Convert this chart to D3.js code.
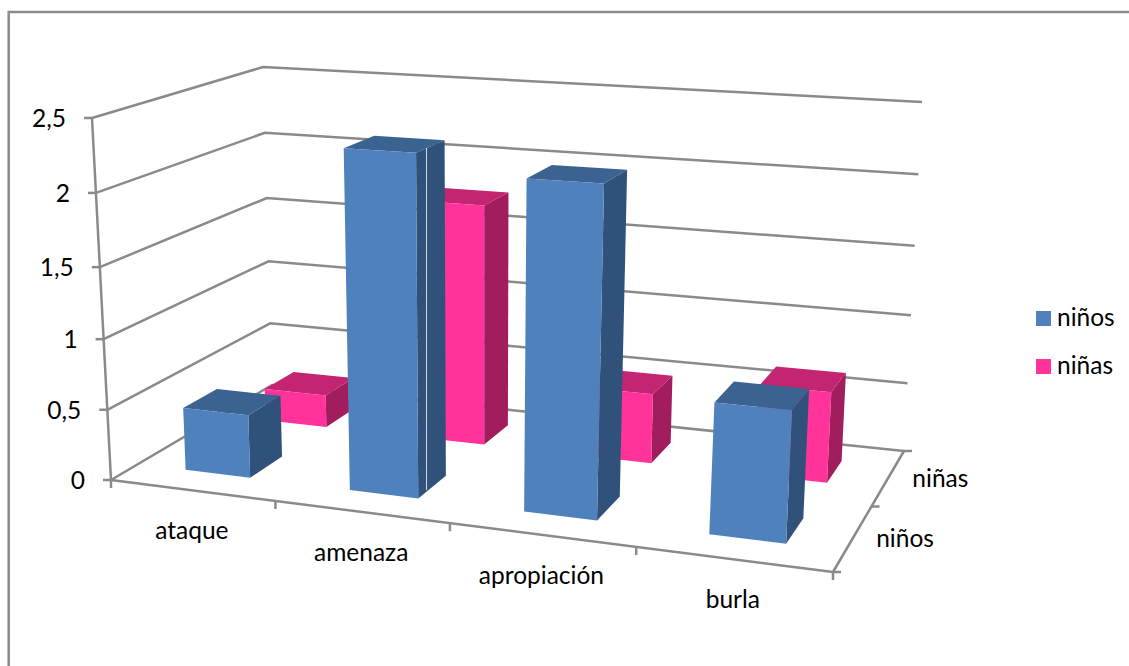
<!DOCTYPE html>
<html>
<head>
<meta charset="utf-8">
<script src="https://cdn.jsdelivr.net/npm/d3@7"></script>
<style>
  html, body { margin: 0; padding: 0; background: #fff; }
  text { font-family: Lato, "Open Sans", sans-serif; font-size: 24.5px; fill: #000; }
</style>
</head>
<body>
<div id="plot"></div>
<script>
const categories = ["ataque", "amenaza", "apropiación", "burla"];
const seriesNames = ["niños", "niñas"];
const ninos = [0.445, 2.33, 2.21, 0.87];
const ninas = [0.24, 1.75, 0.5, 0.64];
const valueTicks = [0, 0.5, 1, 1.5, 2, 2.5];
const tickFractions = [0, 0.194, 0.389, 0.588, 0.793, 1];

const WIDTH = 1129;
const HEIGHT = 666;
const GRAY = "#8a8a8a";
const LINE_W = 2.5;

// corners of the floor and of the top plane: front left, front right, back right, back left
const FLOOR = [[111, 480], [833, 572], [904, 451], [272, 385]];
const ROOF = [[92, 118], [851, 163], [922, 102], [263, 67]];

const COLORS = {
  "niños": { front: "#4F81BD", top: "#3B6391", side: "#30527A" },
  "niñas": { front: "#FF3399", top: "#C42573", side: "#A11D5E" }
};

const SVG = d3.select("#plot")
              .append("svg")
              .attr("width", WIDTH)
              .attr("height", HEIGHT)
              .style("display", "block");

// maps the unit square on a quad
function homography(q) {
  const [[x0, y0], [x1, y1], [x2, y2], [x3, y3]] = q;
  const dx3 = x0 - x1 + x2 - x3, dy3 = y0 - y1 + y2 - y3;
  const dx1 = x1 - x2, dy1 = y1 - y2, dx2 = x3 - x2, dy2 = y3 - y2;
  const det = dx1 * dy2 - dx2 * dy1;
  const g = (dx3 * dy2 - dx2 * dy3) / det;
  const h = (dx1 * dy3 - dx3 * dy1) / det;
  return (u, v) => {
    const w = g * u + h * v + 1;
    return [
      ((x1 - x0 + g * x1) * u + (x3 - x0 + h * x3) * v + x0) / w,
      ((y1 - y0 + g * y1) * u + (y3 - y0 + h * y3) * v + y0) / w
    ];
  };
}

const floorMap = homography(FLOOR);
const roofMap = homography(ROOF);

// small bends so the bar edges lean like the picture
const floorBend = d3.scaleLinear().domain([0, 0.25, 0.5, 0.75, 1]).range([0, 0.253, 0.504, 0.754, 1]);
const roofBend = d3.scaleLinear().domain([0, 0.325, 0.575, 0.825, 1]).range([0, 0.315, 0.565, 0.824, 1]);

function project(u, v, f) {
  const a = floorMap(floorBend(u), v), b = roofMap(roofBend(u), v);
  return [a[0] + (b[0] - a[0]) * f, a[1] + (b[1] - a[1]) * f];
}

const xScale = d3.scaleBand().domain(categories).range([0, 1]).paddingInner(0.6).paddingOuter(0.3);
const zScale = d3.scaleBand().domain(seriesNames).range([0, 1]).paddingInner(0.6).paddingOuter(0.3);
const yScale = d3.scaleLinear().domain(valueTicks).range(tickFractions);

const line = d3.line();

function stroke(points) {
  SVG.append("path")
    .attr("d", line(points))
    .attr("fill", "none")
    .attr("stroke", GRAY)
    .attr("stroke-width", LINE_W);
}

// outer frame, only top and left
stroke([[8.7, 666], [8.7, 12], [1129, 12]]);

// grid on the walls
valueTicks.forEach((t) => {
  const f = yScale(t);
  stroke([project(0, 0, f), project(0, 1, f), project(1, 1, f)]);
  const p = project(0, 0, f);
  stroke([[p[0] - 8, p[1]], p]);
});

// axis lines
stroke([project(0, 0, 0), project(0, 0, 1)]);
stroke([project(0, 0, 0), project(1, 0, 0)]);
stroke([project(1, 0, 0), project(1, 1, 0)]);

// ticks below the category axis
d3.range(categories.length + 1).forEach((i) => {
  const p = project(i / categories.length, 0, 0);
  stroke([p, [p[0], p[1] + 8]]);
});

// ticks of the depth axis
d3.range(seriesNames.length + 1).forEach((i) => {
  const p = project(1, i / seriesNames.length, 0);
  stroke([p, [p[0] + 8, p[1]]]);
});

function drawBar(cat, name, value) {
  const u0 = xScale(cat), u1 = u0 + xScale.bandwidth();
  const v0 = zScale(name), v1 = v0 + zScale.bandwidth();
  const f = yScale(value);
  const c = COLORS[name];
  const face = (pts, fill) => SVG.append("polygon")
    .attr("points", pts.map((p) => p.join(",")).join(" "))
    .attr("fill", fill);
  face([project(u0, v0, f), project(u1, v0, f), project(u1, v1, f), project(u0, v1, f)], c.top);
  face([project(u1, v0, 0), project(u1, v1, 0), project(u1, v1, f), project(u1, v0, f)], c.side);
  face([project(u0, v0, 0), project(u1, v0, 0), project(u1, v0, f), project(u0, v0, f)], c.front);
}

// back row first so the front row covers it
categories.forEach((c, i) => drawBar(c, "niñas", ninas[i]));
categories.forEach((c, i) => drawBar(c, "niños", ninos[i]));

// thin pale seam on the side of the amenaza bar, straight up and down
const seamU = xScale("amenaza") + xScale.bandwidth();
const seamV = zScale("niños") + zScale.bandwidth() * 0.36;
const seamTop = project(seamU, seamV, yScale(ninos[1]));
const seamBottom = project(seamU, seamV, 0);
SVG.append("path")
  .attr("d", line([seamTop, [seamTop[0], seamBottom[1]]]))
  .attr("stroke", "#d9d9d9")
  .attr("stroke-width", 1);

// value labels
valueTicks.forEach((t) => {
  const p = project(0, 0, yScale(t));
  SVG.append("text")
    .attr("x", p[0] - 26)
    .attr("y", p[1] + 9)
    .attr("text-anchor", "end")
    .text(String(t).replace(".", ","));
});

// category labels
categories.forEach((c) => {
  const p = project(xScale(c) + xScale.bandwidth() / 2, 0, 0);
  SVG.append("text")
    .attr("x", p[0])
    .attr("y", p[1] + 49)
    .attr("text-anchor", "middle")
    .text(c);
});

// depth labels
seriesNames.forEach((s) => {
  const p = project(1, zScale(s) + zScale.bandwidth() / 2, 0);
  SVG.append("text")
    .attr("x", p[0] + 52)
    .attr("y", p[1] + 9)
    .attr("text-anchor", "middle")
    .text(s);
});

// legend
seriesNames.forEach((s, i) => {
  const g = SVG.append("g").attr("transform", `translate(1036, ${311 + i * 48})`);
  g.append("rect").attr("width", 15).attr("height", 15).attr("fill", COLORS[s].front);
  g.append("text").attr("x", 21).attr("y", 15).text(s);
});
</script>
</body>
</html>
